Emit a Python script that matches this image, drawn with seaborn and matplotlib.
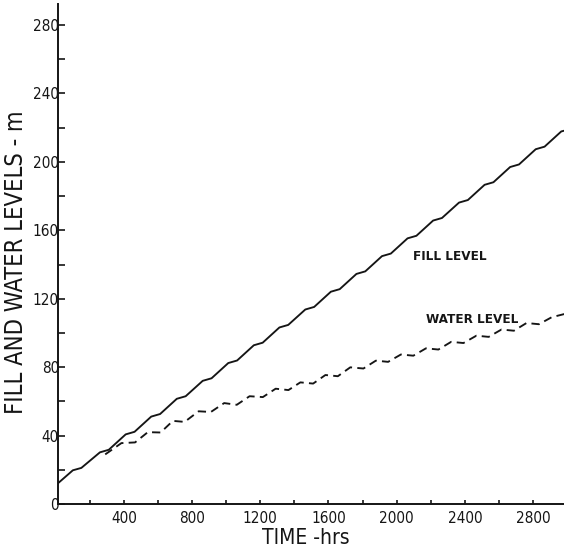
import matplotlib
matplotlib.use("Agg")
import matplotlib.pyplot as plt
from matplotlib.ticker import MultipleLocator
from matplotlib import font_manager
import seaborn as sns
import pandas as pd

# Fill level (m) against elapsed time (hrs)
fill_time = [0, 100, 150, 259, 311, 410, 462, 560, 612, 710, 762, 862, 914,
             1012, 1064, 1162, 1214, 1312, 1364, 1464, 1516, 1614, 1666,
             1764, 1816, 1914, 1966, 2064, 2116, 2214, 2266, 2366, 2418,
             2516, 2568, 2666, 2718, 2816, 2868, 2966, 2990]
fill_level = [11.0, 19.7, 21.1, 30.2, 31.7, 40.7, 42.2, 51.1, 52.6, 61.5, 63.0,
              72.0, 73.5, 82.4, 83.9, 92.8, 94.3, 103.2, 104.7, 113.7, 115.2,
              124.1, 125.6, 134.5, 136.0, 144.9, 146.4, 155.3, 156.8, 165.7,
              167.2, 176.2, 177.7, 186.6, 188.1, 197.0, 198.5, 207.4, 208.9,
              217.8, 218.4]

# Water level (m) against elapsed time (hrs)
water_time = [290, 385, 465, 540, 615, 687, 756, 838, 910, 988, 1062, 1137,
              1215, 1290, 1365, 1435, 1510, 1582, 1655, 1728, 1805, 1878,
              1950, 2025, 2098, 2172, 2245, 2320, 2392, 2468, 2540, 2615,
              2688, 2762, 2835, 2910, 2990]
water_level = [29.0, 35.6, 36.0, 42.0, 41.8, 48.6, 48.0, 54.2, 53.8, 59.0, 58.0,
               63.0, 62.5, 67.4, 66.6, 71.1, 70.4, 75.4, 74.7, 79.9, 79.2, 83.8,
               83.1, 87.4, 86.7, 91.0, 90.3, 94.8, 94.1, 98.4, 97.7, 102.0,
               101.3, 105.8, 105.1, 109.2, 111.2]

x_ticks = [400, 800, 1200, 1600, 2000, 2400, 2800]
y_ticks = [0, 40, 80, 120, 160, 200, 240, 280]

sns.set_theme(style="ticks")

# Prefer a narrow face for the lettering when one is available
names = {f.name for f in font_manager.fontManager.ttflist}
narrow_faces = [f for f in font_manager.fontManager.ttflist
                if "Narrow" in f.name or "Condensed" in f.name
                or f.stretch in ("condensed", "semi-condensed")]
if "Liberation Sans Narrow" in names:
    plt.rcParams["font.family"] = ["Liberation Sans Narrow", "DejaVu Sans"]
elif narrow_faces:
    plt.rcParams["font.family"] = [narrow_faces[0].name, "DejaVu Sans"]
    plt.rcParams["font.stretch"] = narrow_faces[0].stretch
else:
    plt.rcParams["font.family"] = ["DejaVu Sans"]
    plt.rcParams["font.stretch"] = "condensed"

fig = plt.figure(figsize=(5.64, 5.51), dpi=100)
W, H = 564, 551
left, right, bottom, top = 57.5, 564, 504, 4
ax = fig.add_axes([left / W, (H - bottom) / H, (right - left) / W, (bottom - top) / H])

fill_df = pd.DataFrame({"time": fill_time, "level": fill_level})
water_df = pd.DataFrame({"time": water_time, "level": water_level})

sns.lineplot(data=fill_df, x="time", y="level", ax=ax, color="#151515",
             linewidth=1.35, sort=False)
sns.lineplot(data=water_df, x="time", y="level", ax=ax, color="#151515",
             linewidth=1.35, sort=False, linestyle=(0, (4.4, 2.8)))

ax.set_xlim(10, 2982)
ax.set_ylim(0, 292.3)

ax.set_xticks(x_ticks)
ax.set_xticklabels([str(v) for v in x_ticks])
ax.set_yticks(y_ticks)
ax.set_yticklabels([str(v) for v in y_ticks])
ax.xaxis.set_minor_locator(MultipleLocator(200))
ax.yaxis.set_minor_locator(MultipleLocator(20))

ax.tick_params(axis="y", which="both", direction="in", length=5, width=1.2,
               labelsize=11, pad=-1, colors="#151515")
ax.tick_params(axis="x", which="both", direction="in", length=3, width=1.2,
               labelsize=11, pad=5, colors="#151515")

for side in ("top", "right"):
    ax.spines[side].set_visible(False)
for side in ("left", "bottom"):
    ax.spines[side].set_linewidth(1.4)
    ax.spines[side].set_color("#151515")

ax.set_xlabel("TIME -hrs", fontsize=15, color="#151515")
ax.set_ylabel("FILL AND WATER LEVELS - m", fontsize=17, color="#151515")
ax.xaxis.set_label_coords(0.49, -0.048)
ax.yaxis.set_label_coords(-0.058, 0.484)

ax.text(2096, 144.4, "FILL LEVEL", fontsize=9.6, fontweight="bold",
        color="#151515", va="center", ha="left")
ax.text(2172, 107.6, "WATER LEVEL", fontsize=9.6, fontweight="bold",
        color="#151515", va="center", ha="left")

fig.savefig("out.png", dpi=100, facecolor="white")
